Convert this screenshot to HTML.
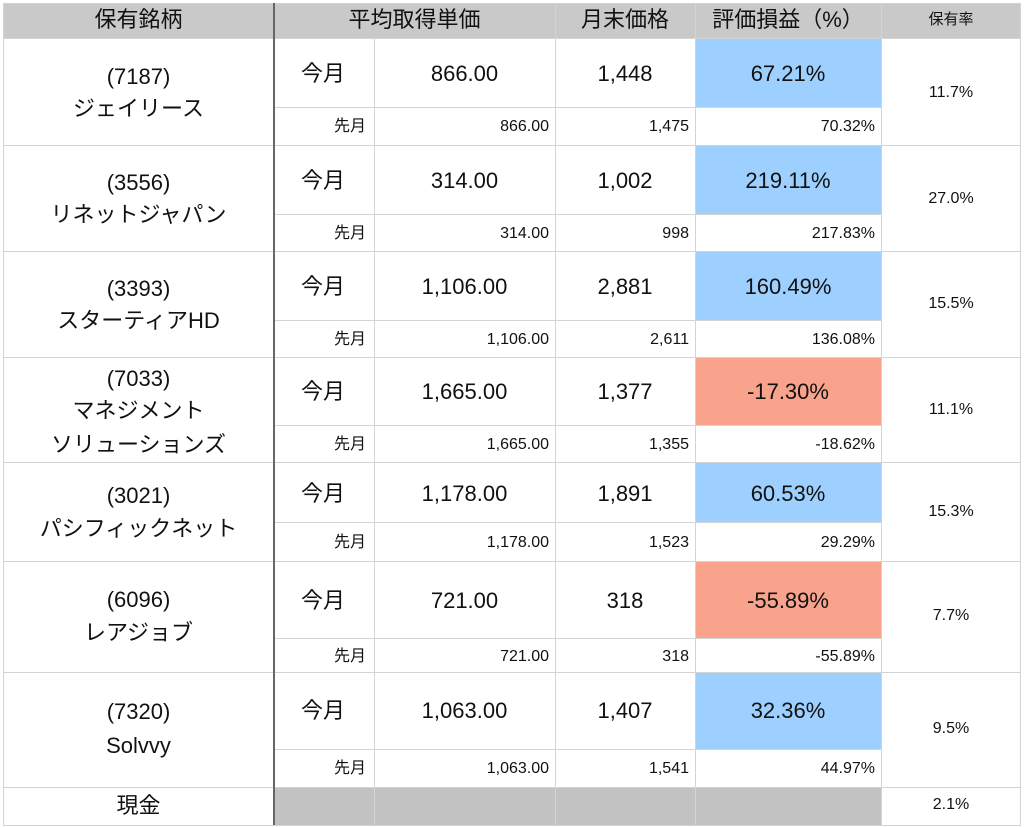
<!DOCTYPE html>
<html><head><meta charset="utf-8"><style>
body{margin:0;width:1024px;height:827px;background:#fff;position:relative;overflow:hidden;font-family:"Liberation Sans","Noto Sans CJK JP",sans-serif;color:#111}
div{position:absolute;box-sizing:border-box}
.h{left:0;height:1px;background:#d4d4d4}
.v{top:3px;width:1px;background:#d4d4d4}
.t{white-space:nowrap;line-height:1}
.c{text-align:center}
.r{text-align:right}
.big{font-size:22px}
.sm{font-size:16px}
</style></head><body>
<div style="left:3px;top:3px;width:1018px;height:35px;background:#c9c9c9"></div>
<div style="left:274px;top:787px;width:607px;height:38px;background:#c2c2c2"></div>
<div style="left:695px;top:38px;width:186px;height:69px;background:#9dd0ff"></div>
<div style="left:695px;top:145px;width:186px;height:69px;background:#9dd0ff"></div>
<div style="left:695px;top:251px;width:186px;height:69px;background:#9dd0ff"></div>
<div style="left:695px;top:357px;width:186px;height:68px;background:#f9a38c"></div>
<div style="left:695px;top:462px;width:186px;height:60px;background:#9dd0ff"></div>
<div style="left:695px;top:561px;width:186px;height:77px;background:#f9a38c"></div>
<div style="left:695px;top:672px;width:186px;height:77px;background:#9dd0ff"></div>

<div class="h" style="top:3px;left:3px;width:1018px"></div>
<div class="h" style="top:38px;left:3px;width:1018px"></div>
<div class="h" style="top:145px;left:3px;width:1018px"></div>
<div class="h" style="top:251px;left:3px;width:1018px"></div>
<div class="h" style="top:357px;left:3px;width:1018px"></div>
<div class="h" style="top:462px;left:3px;width:1018px"></div>
<div class="h" style="top:561px;left:3px;width:1018px"></div>
<div class="h" style="top:672px;left:3px;width:1018px"></div>
<div class="h" style="top:787px;left:3px;width:1018px"></div>
<div class="h" style="top:825px;left:3px;width:1018px"></div>
<div class="h" style="top:107px;left:274px;width:607px"></div>
<div class="h" style="top:214px;left:274px;width:607px"></div>
<div class="h" style="top:320px;left:274px;width:607px"></div>
<div class="h" style="top:425px;left:274px;width:607px"></div>
<div class="h" style="top:522px;left:274px;width:607px"></div>
<div class="h" style="top:638px;left:274px;width:607px"></div>
<div class="h" style="top:749px;left:274px;width:607px"></div>
<div class="v" style="left:3px;height:822px"></div>
<div class="v" style="left:374px;top:38px;height:787px"></div>
<div class="v" style="left:555px;height:822px"></div>
<div class="v" style="left:695px;height:822px"></div>
<div class="v" style="left:881px;height:822px"></div>
<div class="v" style="left:1020px;height:822px"></div>
<div class="v" style="left:273px;width:2px;height:822px;background:#666;top:3px"></div>

<div class="t c big" style="left:3px;width:271px;top:9px">保有銘柄</div>
<div class="t c big" style="left:274px;width:281px;top:9px">平均取得単価</div>
<div class="t c big" style="left:555px;width:140px;top:9px">月末価格</div>
<div class="t c big" style="left:695px;width:186px;top:9px">評価損益（%）</div>
<div class="t c" style="left:881px;width:140px;top:12px;font-size:15px">保有率</div>

<div class="t c big" style="left:3px;width:271px;top:66px">(7187)</div>
<div class="t c big" style="left:3px;width:271px;top:98px">ジェイリース</div>
<div class="t big" style="left:301px;top:63px">今月</div>
<div class="t c big" style="left:374px;width:181px;top:63px">866.00</div>
<div class="t c big" style="left:555px;width:140px;top:63px">1,448</div>
<div class="t c big" style="left:695px;width:186px;top:63px">67.21%</div>
<div class="t r sm" style="left:280px;width:86px;top:119px">先月</div>
<div class="t r sm" style="left:380px;width:169px;top:119px">866.00</div>
<div class="t r sm" style="left:560px;width:129px;top:119px">1,475</div>
<div class="t r sm" style="left:700px;width:175px;top:119px">70.32%</div>
<div class="t c sm" style="left:881px;width:140px;top:85px">11.7%</div>

<div class="t c big" style="left:3px;width:271px;top:172px">(3556)</div>
<div class="t c big" style="left:3px;width:271px;top:204px">リネットジャパン</div>
<div class="t big" style="left:301px;top:170px">今月</div>
<div class="t c big" style="left:374px;width:181px;top:170px">314.00</div>
<div class="t c big" style="left:555px;width:140px;top:170px">1,002</div>
<div class="t c big" style="left:695px;width:186px;top:170px">219.11%</div>
<div class="t r sm" style="left:280px;width:86px;top:226px">先月</div>
<div class="t r sm" style="left:380px;width:169px;top:226px">314.00</div>
<div class="t r sm" style="left:560px;width:129px;top:226px">998</div>
<div class="t r sm" style="left:700px;width:175px;top:226px">217.83%</div>
<div class="t c sm" style="left:881px;width:140px;top:191px">27.0%</div>

<div class="t c big" style="left:3px;width:271px;top:278px">(3393)</div>
<div class="t c big" style="left:3px;width:271px;top:310px">スターティアHD</div>
<div class="t big" style="left:301px;top:276px">今月</div>
<div class="t c big" style="left:374px;width:181px;top:276px">1,106.00</div>
<div class="t c big" style="left:555px;width:140px;top:276px">2,881</div>
<div class="t c big" style="left:695px;width:186px;top:276px">160.49%</div>
<div class="t r sm" style="left:280px;width:86px;top:332px">先月</div>
<div class="t r sm" style="left:380px;width:169px;top:332px">1,106.00</div>
<div class="t r sm" style="left:560px;width:129px;top:332px">2,611</div>
<div class="t r sm" style="left:700px;width:175px;top:332px">136.08%</div>
<div class="t c sm" style="left:881px;width:140px;top:296px">15.5%</div>

<div class="t c big" style="left:3px;width:271px;top:368px">(7033)</div>
<div class="t c big" style="left:3px;width:271px;top:400px">マネジメント</div>
<div class="t c big" style="left:3px;width:271px;top:434px">ソリューションズ</div>
<div class="t big" style="left:301px;top:381px">今月</div>
<div class="t c big" style="left:374px;width:181px;top:381px">1,665.00</div>
<div class="t c big" style="left:555px;width:140px;top:381px">1,377</div>
<div class="t c big" style="left:695px;width:186px;top:381px">-17.30%</div>
<div class="t r sm" style="left:280px;width:86px;top:437px">先月</div>
<div class="t r sm" style="left:380px;width:169px;top:437px">1,665.00</div>
<div class="t r sm" style="left:560px;width:129px;top:437px">1,355</div>
<div class="t r sm" style="left:700px;width:175px;top:437px">-18.62%</div>
<div class="t c sm" style="left:881px;width:140px;top:402px">11.1%</div>

<div class="t c big" style="left:3px;width:271px;top:485px">(3021)</div>
<div class="t c big" style="left:3px;width:271px;top:518px">パシフィックネット</div>
<div class="t big" style="left:301px;top:483px">今月</div>
<div class="t c big" style="left:374px;width:181px;top:483px">1,178.00</div>
<div class="t c big" style="left:555px;width:140px;top:483px">1,891</div>
<div class="t c big" style="left:695px;width:186px;top:483px">60.53%</div>
<div class="t r sm" style="left:280px;width:86px;top:535px">先月</div>
<div class="t r sm" style="left:380px;width:169px;top:535px">1,178.00</div>
<div class="t r sm" style="left:560px;width:129px;top:535px">1,523</div>
<div class="t r sm" style="left:700px;width:175px;top:535px">29.29%</div>
<div class="t c sm" style="left:881px;width:140px;top:504px">15.3%</div>

<div class="t c big" style="left:3px;width:271px;top:589px">(6096)</div>
<div class="t c big" style="left:3px;width:271px;top:622px">レアジョブ</div>
<div class="t big" style="left:301px;top:590px">今月</div>
<div class="t c big" style="left:374px;width:181px;top:590px">721.00</div>
<div class="t c big" style="left:555px;width:140px;top:590px">318</div>
<div class="t c big" style="left:695px;width:186px;top:590px">-55.89%</div>
<div class="t r sm" style="left:280px;width:86px;top:649px">先月</div>
<div class="t r sm" style="left:380px;width:169px;top:649px">721.00</div>
<div class="t r sm" style="left:560px;width:129px;top:649px">318</div>
<div class="t r sm" style="left:700px;width:175px;top:649px">-55.89%</div>
<div class="t c sm" style="left:881px;width:140px;top:608px">7.7%</div>

<div class="t c big" style="left:3px;width:271px;top:701px">(7320)</div>
<div class="t c big" style="left:3px;width:271px;top:735px">Solvvy</div>
<div class="t big" style="left:301px;top:700px">今月</div>
<div class="t c big" style="left:374px;width:181px;top:700px">1,063.00</div>
<div class="t c big" style="left:555px;width:140px;top:700px">1,407</div>
<div class="t c big" style="left:695px;width:186px;top:700px">32.36%</div>
<div class="t r sm" style="left:280px;width:86px;top:761px">先月</div>
<div class="t r sm" style="left:380px;width:169px;top:761px">1,063.00</div>
<div class="t r sm" style="left:560px;width:129px;top:761px">1,541</div>
<div class="t r sm" style="left:700px;width:175px;top:761px">44.97%</div>
<div class="t c sm" style="left:881px;width:140px;top:721px">9.5%</div>

<div class="t c big" style="left:3px;width:271px;top:795px">現金</div>
<div class="t c sm" style="left:881px;width:140px;top:797px">2.1%</div>
</body></html>
